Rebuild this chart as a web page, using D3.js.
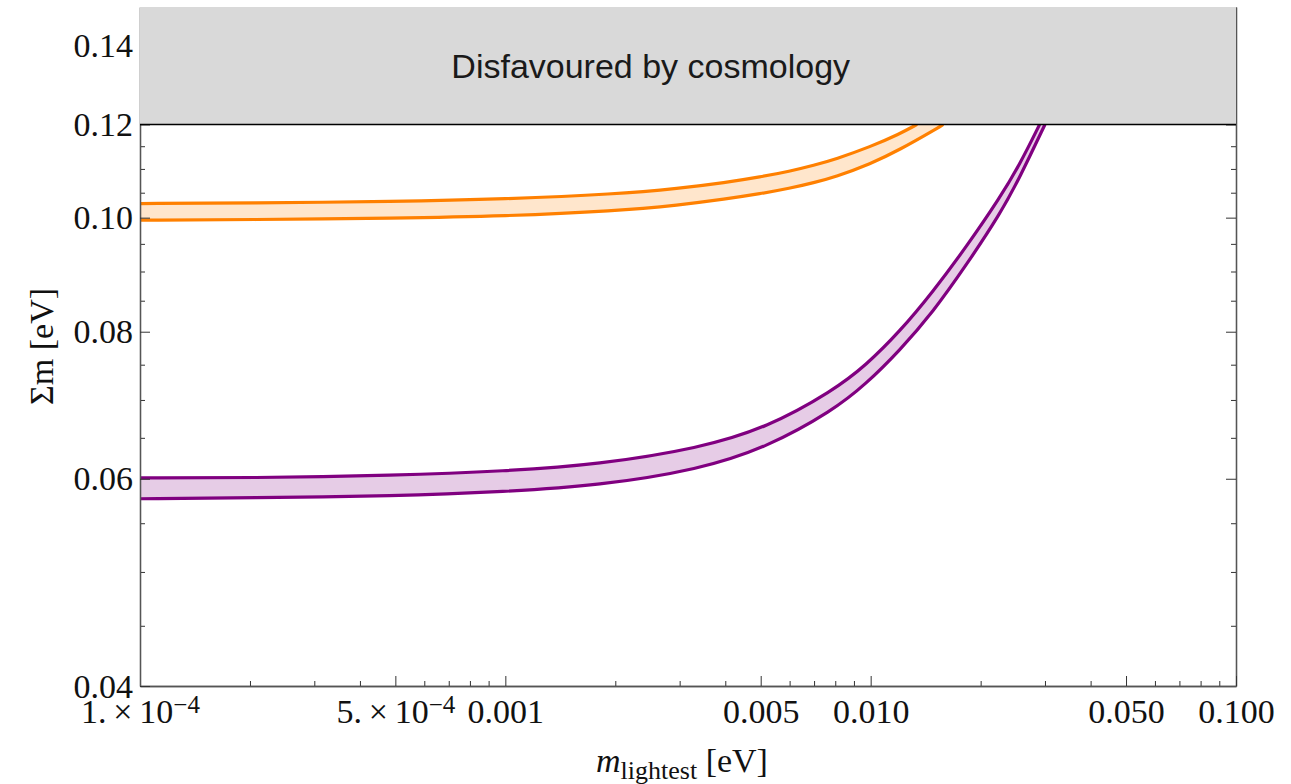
<!DOCTYPE html>
<html>
<head>
<meta charset="utf-8">
<script src="https://cdn.jsdelivr.net/npm/d3@7"></script>
<style>
body { margin: 0; background: #fff; }
svg { display: block; }
</style>
</head>
<body>
<svg id="chart"></svg>
<script>
//----------data------------------------------------
// inverted ordering band (orange)
var ioUpperM   = [1e-4, 2e-4, 5e-4, 0.001, 0.002, 0.003, 0.004, 0.005, 0.006, 0.007, 0.008, 0.010, 0.012, 0.0134]
var ioUpperSum = [0.1028, 0.1029, 0.1032, 0.1037, 0.1047, 0.1059, 0.1071, 0.1083, 0.1095, 0.1108, 0.1121, 0.1149, 0.1178, 0.1200]
var ioLowerM   = [1e-4, 2e-4, 5e-4, 0.001, 0.002, 0.003, 0.004, 0.005, 0.006, 0.007, 0.008, 0.010, 0.012, 0.015, 0.0158]
var ioLowerSum = [0.0995, 0.0996, 0.0999, 0.1003, 0.1013, 0.1025, 0.1037, 0.1048, 0.1059, 0.1071, 0.1083, 0.1111, 0.1142, 0.1188, 0.1200]

// normal ordering band (purple)
var noUpperM   = [1e-4, 2e-4, 5e-4, 0.001, 0.0018, 0.0034, 0.0052, 0.0079, 0.0097, 0.012, 0.0148, 0.0183, 0.0226, 0.0256, 0.0290]
var noUpperSum = [0.0601, 0.0601, 0.0604, 0.0609, 0.0617, 0.0637, 0.0663, 0.0713, 0.0749, 0.0800, 0.0865, 0.0945, 0.1040, 0.1110, 0.1200]
var noLowerM   = [1e-4, 2e-4, 5e-4, 0.001, 0.0018, 0.0034, 0.0052, 0.0079, 0.0097, 0.012, 0.0148, 0.0183, 0.0226, 0.0256, 0.0300]
var noLowerSum = [0.0577, 0.0578, 0.0580, 0.0585, 0.0592, 0.0611, 0.0638, 0.0686, 0.0722, 0.0771, 0.0831, 0.0912, 0.1007, 0.1082, 0.1200]

var cosmoLimit = 0.12
var cosmoText = "Disfavoured by cosmology"

//----------ticks-----------
var xMajor = [1e-4, 5e-4, 0.001, 0.005, 0.01, 0.05, 0.1]
var xMajorLabels = ["1.\u2009\u00d7\u200910^\u22124", "5.\u2009\u00d7\u200910^\u22124", "0.001", "0.005", "0.010", "0.050", "0.100"]
var xMinor = [2e-4, 3e-4, 4e-4, 6e-4, 7e-4, 8e-4, 9e-4,
              0.002, 0.003, 0.004, 0.006, 0.007, 0.008, 0.009,
              0.02, 0.03, 0.04, 0.06, 0.07, 0.08, 0.09]
var yMajor = [0.04, 0.06, 0.08, 0.10, 0.12, 0.14]
var yMajorLabels = ["0.04", "0.06", "0.08", "0.10", "0.12", "0.14"]
var yMinor = [0.045, 0.05, 0.055, 0.065, 0.07, 0.075, 0.085, 0.09, 0.095,
              0.105, 0.11, 0.115, 0.125, 0.13, 0.135, 0.145, 0.15]

var zip = function(ms, sums)
{
	return ms.map(function(m, i) { return {m: m, s: sums[i]} })
}

//---------makegraph---------
var initgraph = function()
{
	var screen = {width: 1291, height: 784}
	var margins = {left: 140, right: 55, top: 7, bottom: 98}
	var graph =
		{
			width: screen.width - margins.left - margins.right,
			height: screen.height - margins.top - margins.bottom
		}

	var xScale = d3.scaleLog()
	.domain([1e-4, 0.1])
	.range([margins.left, margins.left + graph.width])

	var yScale = d3.scaleLog()
	.domain([0.04, 0.151])
	.range([margins.top + graph.height, margins.top])

	var svg = d3.select("#chart")
	.attr("width", screen.width)
	.attr("height", screen.height)

	svg.append("defs").append("clipPath")
	.attr("id", "plotclip")
	.append("rect")
	.attr("x", margins.left)
	.attr("y", margins.top)
	.attr("width", graph.width)
	.attr("height", graph.height)

	var bandsG = svg.append("g").attr("clip-path", "url(#plotclip)")

	// b-spline through the read points smooths out small reading errors
	var line = d3.line()
	.x(function(d) { return xScale(d.m) })
	.y(function(d) { return yScale(d.s) })
	.curve(d3.curveBasis)

	var drawBand = function(upper, lower, fill, stroke)
	{
		var top = line(upper)
		var bottom = line(lower.slice().reverse())
		bandsG.append("path")
		.attr("d", top + "L" + bottom.slice(1) + "Z")
		.attr("fill", fill)
		.attr("stroke", "none")

		bandsG.selectAll(null)
		.data([upper, lower])
		.enter()
		.append("path")
		.attr("d", line)
		.attr("fill", "none")
		.attr("stroke", stroke)
		.attr("stroke-width", 3.2)
	}

	drawBand(zip(ioUpperM, ioUpperSum), zip(ioLowerM, ioLowerSum), "#ffe6cc", "#ff8000")
	drawBand(zip(noUpperM, noUpperSum), zip(noLowerM, noLowerSum), "#e6cce6", "#800080")

	drawAxes(svg, graph, margins, xScale, yScale)

	//---cosmology region---
	svg.append("rect")
	.attr("x", margins.left)
	.attr("y", margins.top)
	.attr("width", graph.width)
	.attr("height", yScale(cosmoLimit) - margins.top)
	.attr("fill", "#d9d9d9")

	svg.append("line")
	.attr("x1", margins.left)
	.attr("x2", margins.left + graph.width)
	.attr("y1", yScale(cosmoLimit))
	.attr("y2", yScale(cosmoLimit))
	.attr("stroke", "#000")
	.attr("stroke-width", 1.6)

	svg.append("text")
	.attr("x", xScale(0.0025))
	.attr("y", 78)
	.attr("text-anchor", "middle")
	.attr("font-family", "Liberation Sans, Arial, sans-serif")
	.attr("font-size", "34px")
	.attr("fill", "#1a1a1a")
	.text(cosmoText)

	drawLabels(svg, graph, margins)
}

//---------axes---------
var styleAxis = function(g)
{
	g.selectAll(".domain").attr("stroke", "#555").attr("stroke-width", 1.3)
	g.selectAll(".tick line").attr("stroke", "#333").attr("stroke-width", 1)
	g.attr("font-family", "Liberation Serif, Times New Roman, serif")
	.attr("font-size", "34px")
	g.selectAll(".tick text").attr("fill", "#111")
}

var drawAxes = function(svg, graph, margins, xScale, yScale)
{
	var bottomY = margins.top + graph.height
	var rightX = margins.left + graph.width

	// minor ticks first
	var xMinorAxis = d3.axisBottom(xScale).tickValues(xMinor).tickSizeInner(-5).tickSizeOuter(0).tickFormat("")
	svg.append("g").attr("transform", "translate(0," + bottomY + ")").call(xMinorAxis)
	.call(styleAxis)

	var yMinorAxis = d3.axisLeft(yScale).tickValues(yMinor).tickSizeInner(-5).tickSizeOuter(0).tickFormat("")
	svg.append("g").attr("transform", "translate(" + margins.left + ",0)").call(yMinorAxis)
	.call(styleAxis)

	var yMinorRight = d3.axisRight(yScale).tickValues(yMinor).tickSizeInner(-5).tickSizeOuter(0).tickFormat("")
	svg.append("g").attr("transform", "translate(" + rightX + ",0)").call(yMinorRight)
	.call(styleAxis)

	var yRight = d3.axisRight(yScale).tickValues(yMajor).tickSizeInner(-10).tickSizeOuter(0).tickFormat("")
	svg.append("g").attr("transform", "translate(" + rightX + ",0)").call(yRight)
	.call(styleAxis)

	// major ticks with labels
	var xAxis = d3.axisBottom(xScale).tickValues(xMajor).tickSizeInner(-10).tickSizeOuter(0)
	.tickPadding(13)
	.tickFormat(function(d, i) { return xMajorLabels[i] })
	var xg = svg.append("g").attr("transform", "translate(0," + bottomY + ")").call(xAxis)
	.call(styleAxis)

	xg.selectAll(".tick text").each(function(d, i)
	{
		var parts = xMajorLabels[i].split("^")
		var t = d3.select(this).text(null)
		t.append("tspan").text(parts[0])
		if (parts.length > 1)
		{
			t.append("tspan").attr("dy", "-0.42em").attr("font-size", "25px").text(parts[1])
		}
	})

	var yAxis = d3.axisLeft(yScale).tickValues(yMajor).tickSizeInner(-10).tickSizeOuter(0)
	.tickPadding(7)
	.tickFormat(function(d, i) { return yMajorLabels[i] })
	svg.append("g").attr("transform", "translate(" + margins.left + ",0)").call(yAxis)
	.call(styleAxis)
	.selectAll(".tick text").attr("dy", "0.33em")
}

//--------labels-------
var drawLabels = function(svg, graph, margins)
{
	var xt = svg.append("text")
	.attr("x", margins.left + graph.width / 2 - 6)
	.attr("y", 772)
	.attr("text-anchor", "middle")
	.attr("font-family", "Liberation Serif, Times New Roman, serif")
	.attr("font-size", "34px")
	.attr("fill", "#111")
	xt.append("tspan").attr("font-style", "italic").text("m")
	xt.append("tspan").attr("font-size", "26px").attr("dy", 7).text("lightest")
	xt.append("tspan").attr("dy", -7).text(" [eV]")

	svg.append("text")
	.attr("transform", "translate(53," + (margins.top + graph.height / 2) + ") rotate(-90)")
	.attr("text-anchor", "middle")
	.attr("font-family", "Liberation Serif, Times New Roman, serif")
	.attr("font-size", "34px")
	.attr("fill", "#111")
	.text("\u03a3m [eV]")
}

initgraph()
</script>
</body>
</html>
